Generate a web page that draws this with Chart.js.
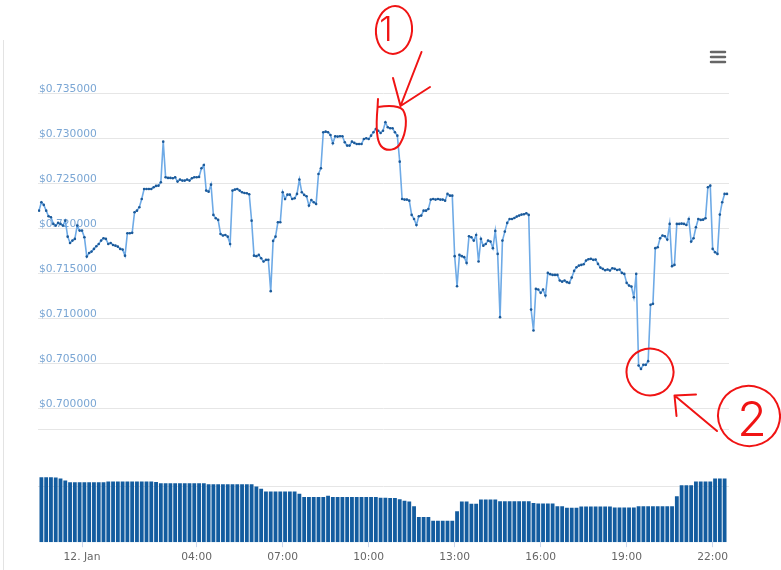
<!DOCTYPE html>
<html lang="en">
<head>
<meta charset="UTF-8">
<title>Price chart</title>
<style>
  html, body { margin: 0; padding: 0; background: #fff; }
  #wrap { position: relative; width: 781px; height: 570px; }
  #edge { position: absolute; left: 3px; top: 40px; width: 1px; height: 530px; background: #e3e3e3; }
  canvas { position: absolute; left: 0; top: 0; }
</style>
</head>
<body>
<div id="wrap">
  <div id="edge"></div>
  <canvas id="canvas" width="781" height="570"></canvas>
</div>

<script src="https://cdn.jsdelivr.net/npm/chart.js@4.4.1/dist/chart.umd.min.js"></script>
<script>
// hours relative to 12 Jan 00:00, price every 5 minutes, volume every 10 minutes
const startHour = -1.5;

const priceValues = [
  0.72203, 0.72297, 0.72267, 0.72203, 0.72141, 0.72130, 0.72056, 0.72037, 0.72067, 0.72056, 0.72037, 0.72092,
  0.71914, 0.71844, 0.71870, 0.71889, 0.72037, 0.71981, 0.71981, 0.71908, 0.71692, 0.71733, 0.71748, 0.71778,
  0.71808, 0.71833, 0.71870, 0.71897, 0.71889, 0.71833, 0.71844, 0.71822, 0.71814, 0.71803, 0.71778, 0.71770,
  0.71703, 0.71952, 0.71952, 0.71956, 0.72186, 0.72203, 0.72241, 0.72333, 0.72444, 0.72444, 0.72444, 0.72444,
  0.72463, 0.72478, 0.72481, 0.72519, 0.72970, 0.72574, 0.72567, 0.72567, 0.72563, 0.72574, 0.72526, 0.72548,
  0.72537, 0.72537, 0.72548, 0.72537, 0.72563, 0.72574, 0.72574, 0.72578, 0.72674, 0.72711, 0.72426, 0.72414,
  0.72492, 0.72156, 0.72119, 0.72100, 0.71944, 0.71926, 0.71933, 0.71914, 0.71833, 0.72426, 0.72437, 0.72444,
  0.72426, 0.72408, 0.72400, 0.72397, 0.72386, 0.72092, 0.71703, 0.71697, 0.71711, 0.71674, 0.71637, 0.71656,
  0.71656, 0.71308, 0.71867, 0.71914, 0.72074, 0.72074, 0.72408, 0.72333, 0.72381, 0.72381, 0.72333, 0.72341,
  0.72389, 0.72548, 0.72408, 0.72378, 0.72363, 0.72259, 0.72322, 0.72297, 0.72278, 0.72611, 0.72674, 0.73074,
  0.73081, 0.73074, 0.73044, 0.72952, 0.73030, 0.73026, 0.73030, 0.73030, 0.72963, 0.72926, 0.72926, 0.72970,
  0.72956, 0.72944, 0.72944, 0.72944, 0.73000, 0.73008, 0.73000, 0.73037, 0.73074, 0.73111, 0.73092, 0.73067,
  0.73092, 0.73186, 0.73130, 0.73119, 0.73119, 0.73074, 0.73037, 0.72748, 0.72333, 0.72326, 0.72326, 0.72314,
  0.72156, 0.72111, 0.72044, 0.72141, 0.72148, 0.72203, 0.72203, 0.72222, 0.72326, 0.72333, 0.72326, 0.72333,
  0.72326, 0.72326, 0.72314, 0.72389, 0.72370, 0.72370, 0.71697, 0.71363, 0.71711, 0.71697, 0.71686, 0.71622,
  0.71919, 0.71908, 0.71870, 0.71933, 0.71637, 0.71889, 0.71814, 0.71833, 0.71870, 0.71859, 0.71786, 0.71978,
  0.71722, 0.71019, 0.71870, 0.71970, 0.72067, 0.72111, 0.72111, 0.72122, 0.72137, 0.72148, 0.72159, 0.72163,
  0.72174, 0.72156, 0.71103, 0.70870, 0.71333, 0.71326, 0.71289, 0.71326, 0.71259, 0.71511, 0.71497, 0.71489,
  0.71489, 0.71489, 0.71426, 0.71414, 0.71426, 0.71408, 0.71400, 0.71459, 0.71533, 0.71574, 0.71592, 0.71600,
  0.71608, 0.71648, 0.71663, 0.71667, 0.71656, 0.71659, 0.71611, 0.71570, 0.71556, 0.71541, 0.71548, 0.71537,
  0.71563, 0.71556, 0.71544, 0.71548, 0.71511, 0.71500, 0.71400, 0.71370, 0.71359, 0.71241, 0.71500, 0.70481,
  0.70444, 0.70489, 0.70489, 0.70530, 0.71156, 0.71167, 0.71786, 0.71797, 0.71897, 0.71926, 0.71919, 0.71881,
  0.72056, 0.71586, 0.71600, 0.72056, 0.72056, 0.72059, 0.72056, 0.72044, 0.72111, 0.71859, 0.71897, 0.72019,
  0.72111, 0.72100, 0.72103, 0.72119, 0.72463, 0.72481, 0.71778, 0.71741, 0.71722, 0.72159, 0.72297, 0.72389,
  0.72389
];

const volumeValues = [
  233, 233, 233, 232, 229, 222, 215, 215, 215, 215, 215, 215,
  215, 215, 218, 218, 218, 218, 218, 218, 218, 218, 218, 218,
  216, 212, 212, 212, 212, 212, 212, 212, 212, 212, 212, 208,
  208, 208, 208, 208, 208, 208, 208, 208, 208, 200, 192, 182,
  182, 182, 182, 182, 182, 182, 174, 162, 162, 162, 162, 162,
  167, 162, 162, 162, 162, 162, 162, 162, 162, 162, 162, 160,
  160, 159, 159, 154, 149, 146, 129, 90, 90, 90, 77, 77,
  77, 77, 77, 111, 146, 146, 138, 138, 153, 153, 153, 153,
  147, 147, 147, 147, 147, 147, 147, 141, 139, 139, 139, 139,
  129, 129, 124, 124, 124, 128, 128, 128, 128, 128, 128, 128,
  125, 125, 125, 125, 125, 129, 129, 129, 129, 129, 129, 129,
  129, 165, 205, 205, 205, 218, 218, 218, 218, 229, 229, 229
];

const xTickHours = [0, 4, 7, 10, 13, 16, 19, 22];
const xTickLabels = ['12. Jan', '04:00', '07:00', '10:00', '13:00', '16:00', '19:00', '22:00'];
const priceTicks = [0.69767, 0.700, 0.705, 0.710, 0.715, 0.720, 0.725, 0.730, 0.735];
const volumeTicks = [200];

const pricePoints = priceValues.map((v, i) => ({ x: startHour + i * 5 / 60, y: v }));
const volumeBars = volumeValues.map((v, j) => ({ x: startHour + (j + 0.5) * 10 / 60, y: v }));

const labelFont = { family: 'DejaVu Sans', size: 10.7 };

// menu icon + the red hand-drawn marks
const scribbles = {
  id: 'scribbles',
  afterDraw(chart) {
    const ctx = chart.ctx;
    ctx.save();
    ctx.strokeStyle = '#666';
    ctx.lineWidth = 2.5;
    ctx.lineCap = 'round';
    [52, 57, 62].forEach(y => {
      ctx.beginPath(); ctx.moveTo(711, y); ctx.lineTo(725, y); ctx.stroke();
    });

    ctx.strokeStyle = '#f01414';
    ctx.fillStyle = '#f01414';
    ctx.lineWidth = 2;
    ctx.lineJoin = 'round';

    // circle with 1
    ctx.beginPath();
    ctx.ellipse(394, 30, 18, 24, 0.1, -2.0, -2.0 + Math.PI * 2 + 0.3);
    ctx.stroke();
    ctx.font = '300 34px Inter';
    ctx.textAlign = 'center';
    ctx.textBaseline = 'middle';
    ctx.fillText('1', 386, 31);

    // arrow 1
    ctx.beginPath();
    ctx.moveTo(421.5, 52); ctx.lineTo(400.5, 106);
    ctx.moveTo(393, 78); ctx.lineTo(400.5, 106); ctx.lineTo(430, 87);
    ctx.stroke();

    // loop round the top
    ctx.beginPath();
    ctx.moveTo(378, 99);
    ctx.lineTo(377.5, 108);
    ctx.bezierCurveTo(376, 125, 376, 140, 381, 146);
    ctx.bezierCurveTo(386, 152, 397, 151, 401, 142);
    ctx.bezierCurveTo(406, 133, 408, 118, 403, 110);
    ctx.bezierCurveTo(398, 105, 385, 106, 378, 107);
    ctx.stroke();

    // loop round the bottom
    ctx.beginPath();
    ctx.ellipse(650, 372, 23.5, 23.5, 0, -1.2, -1.2 + Math.PI * 2 + 0.35);
    ctx.stroke();

    // arrow 2
    ctx.beginPath();
    ctx.moveTo(717, 431); ctx.lineTo(674.5, 395.5);
    ctx.moveTo(696, 394.5); ctx.lineTo(674.5, 395.5); ctx.lineTo(676.5, 416);
    ctx.stroke();

    // circle with 2
    ctx.beginPath();
    ctx.ellipse(749, 416, 31, 30, 0.2, -2.2, -2.2 + Math.PI * 2 + 0.25);
    ctx.stroke();
    ctx.font = '300 48px Inter';
    ctx.fillText('2', 752, 422);
    ctx.restore();
  }
};

new Chart(document.getElementById('canvas'), {
  type: 'bar',
  data: {
    datasets: [
      {
        type: 'line',
        data: pricePoints,
        yAxisID: 'price',
        borderColor: '#6eaae6',
        borderWidth: 1.6,
        pointRadius: 1.3,
        pointBorderWidth: 0,
        pointBackgroundColor: '#1c5a99',
        tension: 0,
        order: 0
      },
      {
        type: 'bar',
        data: volumeBars,
        yAxisID: 'volume',
        backgroundColor: '#135c9f',
        barPercentage: 1,
        categoryPercentage: 0.8,
        order: 1
      }
    ]
  },
  options: {
    responsive: false,
    animation: false,
    devicePixelRatio: 1,
    layout: { padding: { left: 36, right: 52, top: 50, bottom: 2 } },
    plugins: { legend: { display: false }, tooltip: { enabled: false } },
    scales: {
      x: {
        type: 'linear',
        min: -1.535,
        max: 22.57,
        offset: false,
        afterBuildTicks: s => { s.ticks = xTickHours.map(v => ({ value: v })); },
        ticks: {
          callback: v => xTickLabels[xTickHours.indexOf(v)],
          color: '#666',
          font: labelFont,
          padding: 4,
          maxRotation: 0,
          autoSkip: false
        },
        grid: { offset: false, drawOnChartArea: false, drawTicks: true, tickLength: 5, color: '#ccd6eb' },
        border: { display: false }
      },
      price: {
        type: 'linear',
        position: 'left',
        min: 0.685178,
        max: 0.739889,
        afterBuildTicks: s => { s.ticks = priceTicks.map(v => ({ value: v })); },
        ticks: {
          mirror: true,
          padding: 1,
          labelOffset: -5,
          color: '#7aa6d4',
          font: labelFont,
          autoSkip: false,
          callback: v => v < 0.6999 ? '' : '$' + v.toFixed(6)
        },
        grid: { color: '#e6e6e6', drawTicks: false },
        border: { display: false }
      },
      volume: {
        type: 'linear',
        position: 'left',
        min: 0,
        max: 1769,
        afterBuildTicks: s => { s.ticks = volumeTicks.map(v => ({ value: v })); },
        ticks: { display: false },
        grid: { color: '#e6e6e6', drawTicks: false },
        border: { display: false }
      }
    }
  },
  plugins: [scribbles]
});
</script>
</body>
</html>
